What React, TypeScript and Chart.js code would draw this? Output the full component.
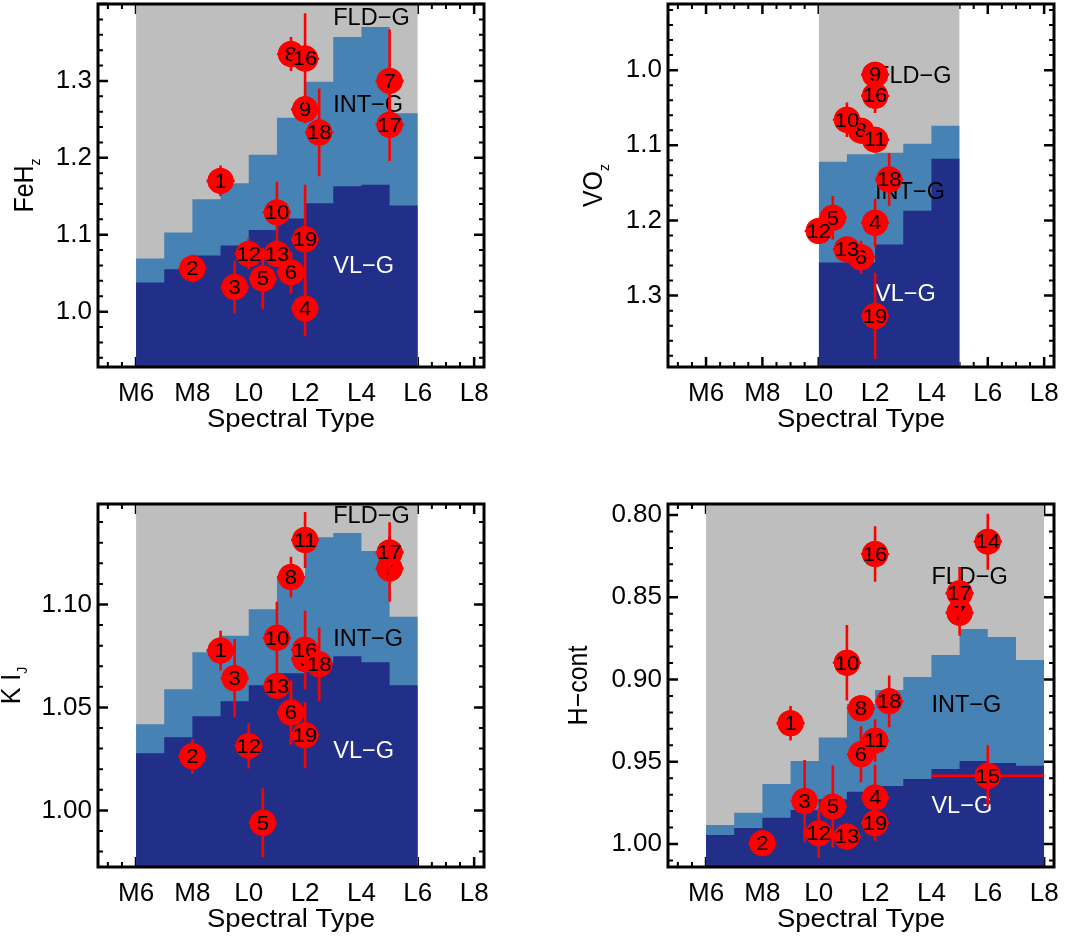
import React, { useEffect, useRef } from "react";
import { Chart, registerables } from "chart.js";

Chart.register(...registerables);

const FONT = "'Liberation Sans', Arial, Helvetica, sans-serif";
const GRAY = "#bebebe";
const STEEL = "#4682b4";
const NAVY = "#212f89";
const RED = "#ff0000";

// ---------- shared spectral-type axis ----------
const SPT_TICKS = [6, 8, 10, 12, 14, 16, 18];
const SPT_TICK_LABELS = ["M6", "M8", "L0", "L2", "L4", "L6", "L8"];
const GRAVITY_CLASSES = ["FLD−G", "INT−G", "VL−G"];

// ---------- FeH_z ----------
const FEH_IDS = [1, 2, 3, 4, 5, 6, 7, 8, 9, 10, 12, 13, 16, 17, 18, 19];
const FEH_SPT = [9, 8, 9.5, 12, 10.5, 11.5, 15, 11.5, 12, 11, 10, 11, 12, 15, 12.5, 12];
const FEH_VAL = [1.170, 1.056, 1.032, 1.004, 1.043, 1.051, 1.300, 1.335, 1.263, 1.129, 1.075, 1.075, 1.329, 1.243, 1.233, 1.094];
const FEH_ERR = [0.020, 0.018, 0.034, 0.036, 0.040, 0.027, 0.067, 0.022, 0.018, 0.040, 0.020, 0.015, 0.059, 0.047, 0.057, 0.071];
const FEH_XERR = [0.5, 0.5, 0.5, 0.5, 0.5, 0.5, 0.5, 0.5, 0.5, 0.5, 0.5, 0.5, 0.5, 0.5, 0.5, 0.5];
const FEH_BINS = [6, 7, 8, 9, 10, 11, 12, 13, 14, 15, 16];
const FEH_INT = [1.069, 1.103, 1.146, 1.167, 1.204, 1.252, 1.299, 1.357, 1.370, 1.258];
const FEH_VL = [1.038, 1.055, 1.073, 1.086, 1.106, 1.121, 1.141, 1.163, 1.165, 1.138];
const FEH_TICKS = [1.0, 1.1, 1.2, 1.3];

// ---------- VO_z ----------
const VO_IDS = [4, 5, 6, 8, 9, 10, 11, 12, 13, 16, 18, 19];
const VO_SPT = [12, 10.5, 11.5, 11.5, 12, 11, 12, 10, 11, 12, 12.5, 12];
const VO_VAL = [1.203, 1.1965, 1.249, 1.0805, 1.006, 1.066, 1.0925, 1.214, 1.2385, 1.034, 1.1456, 1.327];
const VO_ERR = [0.032, 0.029, 0.022, 0.012, 0.010, 0.023, 0.010, 0.008, 0.010, 0.023, 0.035, 0.0575];
const VO_XERR = [0.5, 0.5, 0.5, 0.5, 0.5, 0.5, 0.5, 0.5, 0.5, 0.5, 0.5, 0.5];
const VO_BINS = [10, 11, 12, 13, 14, 15];
const VO_INT = [1.122, 1.112, 1.110, 1.098, 1.074];
const VO_VL = [1.256, 1.256, 1.232, 1.187, 1.118];
const VO_TICKS = [1.0, 1.1, 1.2, 1.3];

// ---------- K I_J ----------
const KI_IDS = [1, 2, 3, 5, 6, 7, 8, 9, 10, 11, 12, 13, 16, 17, 18, 19];
const KI_SPT = [9, 8, 9.5, 10.5, 11.5, 15, 11.5, 12, 11, 12, 10, 11, 12, 15, 12.5, 12];
const KI_VAL = [1.0776, 1.0263, 1.0642, 0.994, 1.0475, 1.1175, 1.1133, 1.0735, 1.0838, 1.1313, 1.0313, 1.0605, 1.078, 1.1253, 1.071, 1.0365];
const KI_ERR = [0.0097, 0.0085, 0.019, 0.0167, 0.0156, 0.016, 0.0099, 0.006, 0.0175, 0.0136, 0.011, 0.006, 0.019, 0.0146, 0.0178, 0.016];
const KI_XERR = [0.5, 0.5, 0.5, 0.5, 0.5, 0.5, 0.5, 0.5, 0.5, 0.5, 0.5, 0.5, 0.5, 0.5, 0.5, 0.5];
const KI_BINS = [6, 7, 8, 9, 10, 11, 12, 13, 14, 15, 16];
const KI_INT = [1.0418, 1.0588, 1.0768, 1.0848, 1.0977, 1.113, 1.1327, 1.1347, 1.126, 1.094];
const KI_VL = [1.0277, 1.0355, 1.0457, 1.053, 1.0608, 1.0666, 1.0718, 1.0749, 1.072, 1.0608];
const KI_TICKS = [1.0, 1.05, 1.1];

// ---------- H-cont ----------
const HC_IDS = [1, 2, 3, 4, 5, 6, 7, 8, 10, 11, 12, 13, 14, 15, 16, 17, 18, 19];
const HC_SPT = [9, 8, 9.5, 12, 10.5, 11.5, 15, 11.5, 11, 12, 10, 11, 16, 16, 12, 15, 12.5, 12];
const HC_VAL = [0.9266, 0.9996, 0.9739, 0.9718, 0.9773, 0.9455, 0.8594, 0.9175, 0.8898, 0.9372, 0.9935, 0.9955, 0.8162, 0.9585, 0.8237, 0.8476, 0.9133, 0.9874];
const HC_ERR = [0.0105, 0.003, 0.025, 0.02, 0.025, 0.017, 0.014, 0.005, 0.023, 0.013, 0.015, 0.003, 0.017, 0.0185, 0.0168, 0.016, 0.0158, 0.0107];
const HC_XERR = [0.5, 0.5, 0.5, 0.5, 0.5, 0.5, 0.5, 0.5, 0.5, 0.5, 0.5, 0.5, 0.5, 2, 0.5, 0.5, 0.5, 0.5];
const HC_BINS = [6, 7, 8, 9, 10, 11, 12, 13, 14, 15, 16, 17, 18];
const HC_INT = [0.9884, 0.981, 0.9635, 0.9495, 0.9353, 0.9149, 0.9064, 0.8985, 0.8851, 0.8693, 0.8742, 0.8881];
const HC_VL = [0.9945, 0.9903, 0.984, 0.9793, 0.9728, 0.9682, 0.9647, 0.9605, 0.9544, 0.9495, 0.9507, 0.9524];
const HC_TICKS = [0.8, 0.85, 0.9, 0.95, 1.0];

type Panel = {
  key: string;
  title: string;
  sub: string;
  ids: number[];
  spt: number[];
  val: number[];
  err: number[];
  xerr: number[];
  bins: number[];
  intLim: number[];
  vlLim: number[];
  yTicks: number[];
  digits: number;
  minorStep: number;
  yMin: number;
  yMax: number;
  reverse: boolean;
  box: { left: number; top: number; width: number; height: number };
  area: { left: number; top: number; right: number; bottom: number };
  titleGap: number;
  classPos: { x: number; y: number }[];
};

const X_MIN = 4.65;
const X_MAX = 18.35;

const PANELS: Panel[] = [
  {
    key: "feh", title: "FeH", sub: "z",
    ids: FEH_IDS, spt: FEH_SPT, val: FEH_VAL, err: FEH_ERR, xerr: FEH_XERR,
    bins: FEH_BINS, intLim: FEH_INT, vlLim: FEH_VL,
    yTicks: FEH_TICKS, digits: 1, minorStep: 0.02,
    yMin: 0.928, yMax: 1.4, reverse: false,
    box: { left: 0, top: 0, width: 532, height: 469 },
    area: { left: 98, top: 4, right: 484, bottom: 367 },
    titleGap: 65,
    classPos: [{ x: 13, y: 1.373 }, { x: 13, y: 1.26 }, { x: 13, y: 1.05 }],
  },
  {
    key: "vo", title: "VO", sub: "z",
    ids: VO_IDS, spt: VO_SPT, val: VO_VAL, err: VO_ERR, xerr: VO_XERR,
    bins: VO_BINS, intLim: VO_INT, vlLim: VO_VL,
    yTicks: VO_TICKS, digits: 1, minorStep: 0.02,
    yMin: 0.912, yMax: 1.395, reverse: true,
    box: { left: 532, top: 0, width: 533, height: 469 },
    area: { left: 668, top: 4, right: 1054, bottom: 367 },
    titleGap: 66,
    classPos: [{ x: 12, y: 1.0173 }, { x: 12, y: 1.171 }, { x: 12, y: 1.3073 }],
  },
  {
    key: "ki", title: "K I", sub: "J",
    ids: KI_IDS, spt: KI_SPT, val: KI_VAL, err: KI_ERR, xerr: KI_XERR,
    bins: KI_BINS, intLim: KI_INT, vlLim: KI_VL,
    yTicks: KI_TICKS, digits: 2, minorStep: 0.01,
    yMin: 0.9725, yMax: 1.1488, reverse: false,
    box: { left: 0, top: 469, width: 532, height: 470 },
    area: { left: 98, top: 504, right: 484, bottom: 867 },
    titleGap: 78,
    classPos: [{ x: 13, y: 1.1394 }, { x: 13, y: 1.0799 }, { x: 13, y: 1.0256 }],
  },
  {
    key: "hc", title: "H−cont", sub: "",
    ids: HC_IDS, spt: HC_SPT, val: HC_VAL, err: HC_ERR, xerr: HC_XERR,
    bins: HC_BINS, intLim: HC_INT, vlLim: HC_VL,
    yTicks: HC_TICKS, digits: 2, minorStep: 0.01,
    yMin: 0.7933, yMax: 1.014, reverse: true,
    box: { left: 532, top: 469, width: 533, height: 470 },
    area: { left: 668, top: 504, right: 1054, bottom: 867 },
    titleGap: 81,
    classPos: [{ x: 14, y: 0.8419 }, { x: 14, y: 0.9196 }, { x: 14, y: 0.9813 }],
  },
];

function stepData(bins: number[], vals: number[]) {
  const pts: { x: number; y: number }[] = [];
  vals.forEach((v, i) => {
    pts.push({ x: bins[i], y: v });
    pts.push({ x: bins[i + 1], y: v });
  });
  return pts;
}

const POINT_R = 13;
const TEXT_STRETCH = 1.1;

function makeDecor(p: Panel) {
  return {
    id: "decor-" + p.key,
    beforeDatasetsDraw(chart: any) {
      const { ctx, chartArea: a, scales } = chart;
      const xs = scales.x;
      const ys = scales.y;
      ctx.save();
      ctx.strokeStyle = "#000";
      const k0 = Math.ceil(xs.min / 0.5 - 1e-9);
      const k1 = Math.floor(xs.max / 0.5 + 1e-9);
      for (let k = k0; k <= k1; k++) {
        const major = k % 4 === 0;
        const len = major ? 10 : 5;
        const px = xs.getPixelForValue(k * 0.5);
        ctx.lineWidth = major ? 2.5 : 2;
        ctx.beginPath();
        ctx.moveTo(px, a.bottom);
        ctx.lineTo(px, a.bottom - len);
        ctx.moveTo(px, a.top);
        ctx.lineTo(px, a.top + len);
        ctx.stroke();
      }
      const m0 = Math.ceil(ys.min / p.minorStep - 1e-6);
      const m1 = Math.floor(ys.max / p.minorStep + 1e-6);
      for (let k = m0; k <= m1; k++) {
        const major = k % 5 === 0;
        const len = major ? 10 : 5;
        const py = ys.getPixelForValue(k * p.minorStep);
        ctx.lineWidth = major ? 2.5 : 2;
        ctx.beginPath();
        ctx.moveTo(a.left, py);
        ctx.lineTo(a.left + len, py);
        ctx.moveTo(a.right, py);
        ctx.lineTo(a.right - len, py);
        ctx.stroke();
      }
      ctx.restore();
    },
    beforeDatasetDraw(chart: any, args: any) {
      if (args.index !== 3) return;
      const { ctx, scales } = chart;
      ctx.save();
      ctx.font = `23.5px ${FONT}`;
      ctx.textAlign = "left";
      ctx.textBaseline = "alphabetic";
      GRAVITY_CLASSES.forEach((name, i) => {
        ctx.fillStyle = i === 2 ? "#ffffff" : "#000000";
        ctx.fillText(
          name,
          scales.x.getPixelForValue(p.classPos[i].x),
          scales.y.getPixelForValue(p.classPos[i].y)
        );
      });
      ctx.restore();
    },
    afterDatasetsDraw(chart: any) {
      const { ctx, scales } = chart;
      const xs = scales.x;
      const ys = scales.y;
      const meta = chart.getDatasetMeta(3);
      ctx.save();
      p.ids.forEach((id, i) => {
        const el = meta.data[i];
        const px = el.x;
        const py = el.y;
        const yA = ys.getPixelForValue(p.val[i] - p.err[i]);
        const yB = ys.getPixelForValue(p.val[i] + p.err[i]);
        const xA = xs.getPixelForValue(p.spt[i] - p.xerr[i]);
        const xB = xs.getPixelForValue(p.spt[i] + p.xerr[i]);
        ctx.strokeStyle = RED;
        ctx.lineWidth = 2.6;
        ctx.beginPath();
        ctx.moveTo(px, yA);
        ctx.lineTo(px, yB);
        ctx.moveTo(xA, py);
        ctx.lineTo(xB, py);
        ctx.stroke();
        ctx.fillStyle = RED;
        ctx.beginPath();
        ctx.arc(px, py, POINT_R, 0, Math.PI * 2);
        ctx.fill();
        ctx.save();
        ctx.translate(px, py + 1);
        ctx.scale(1.05, 1);
        ctx.fillStyle = "#000";
        ctx.font = `21px ${FONT}`;
        ctx.textAlign = "center";
        ctx.textBaseline = "middle";
        ctx.fillText(String(id), 0, 0);
        ctx.restore();
      });
      ctx.restore();
    },
    afterDraw(chart: any) {
      const { ctx, chartArea: a } = chart;
      ctx.save();
      ctx.strokeStyle = "#000";
      ctx.lineWidth = 3;
      ctx.strokeRect(a.left, a.top, a.right - a.left, a.bottom - a.top);
      ctx.fillStyle = "#000";
      // x-axis title
      ctx.save();
      ctx.translate((a.left + a.right) / 2, a.bottom + 60);
      ctx.scale(TEXT_STRETCH, 1);
      ctx.font = `25px ${FONT}`;
      ctx.textAlign = "center";
      ctx.textBaseline = "alphabetic";
      ctx.fillText("Spectral Type", 0, 0);
      ctx.restore();
      // y-axis title with subscript
      ctx.translate(a.left - p.titleGap, (a.top + a.bottom) / 2);
      ctx.rotate(-Math.PI / 2);
      ctx.scale(1, TEXT_STRETCH);
      const mainFont = `25px ${FONT}`;
      const subFont = `14px ${FONT}`;
      ctx.font = mainFont;
      const w1 = ctx.measureText(p.title).width;
      ctx.font = subFont;
      const w2 = p.sub ? ctx.measureText(p.sub).width : 0;
      const start = -(w1 + w2) / 2;
      ctx.textAlign = "left";
      ctx.textBaseline = "alphabetic";
      ctx.font = mainFont;
      ctx.fillText(p.title, start, 0);
      if (p.sub) {
        ctx.font = subFont;
        ctx.fillText(p.sub, start + w1, 6);
      }
      ctx.restore();
    },
  };
}

function buildConfig(p: Panel): any {
  const fillTo = p.reverse ? p.yMax : p.yMin;
  return {
    type: "scatter",
    data: {
      datasets: [
        {
          type: "line",
          label: GRAVITY_CLASSES[0],
          data: [
            { x: p.bins[0], y: p.yMax },
            { x: p.bins[p.bins.length - 1], y: p.yMax },
          ],
          fill: { value: p.yMin },
          backgroundColor: GRAY,
          borderColor: "transparent",
          borderWidth: 0,
          pointRadius: 0,
          order: 3,
        },
        {
          type: "line",
          label: GRAVITY_CLASSES[1],
          data: stepData(p.bins, p.intLim),
          fill: { value: fillTo },
          backgroundColor: STEEL,
          borderColor: "transparent",
          borderWidth: 0,
          pointRadius: 0,
          order: 2,
        },
        {
          type: "line",
          label: GRAVITY_CLASSES[2],
          data: stepData(p.bins, p.vlLim),
          fill: { value: fillTo },
          backgroundColor: NAVY,
          borderColor: "transparent",
          borderWidth: 0,
          pointRadius: 0,
          order: 1,
        },
        {
          type: "scatter",
          label: "objects",
          data: p.spt.map((x, i) => ({ x, y: p.val[i] })),
          pointRadius: POINT_R,
          pointBackgroundColor: RED,
          pointBorderWidth: 0,
          order: 0,
        },
      ],
    },
    options: {
      animation: false,
      responsive: false,
      maintainAspectRatio: false,
      devicePixelRatio: 1,
      events: [],
      layout: {
        autoPadding: false,
        padding: {
          left: 0,
          top: p.area.top - p.box.top,
          right: p.box.left + p.box.width - p.area.right,
          bottom: 0,
        },
      },
      plugins: {
        legend: { display: false },
        tooltip: { enabled: false },
        title: { display: false },
      },
      scales: {
        x: {
          type: "linear",
          position: "bottom",
          min: X_MIN,
          max: X_MAX,
          bounds: "data",
          grid: { display: false, drawTicks: false },
          border: { display: false },
          ticks: {
            autoSkip: false,
            maxRotation: 0,
            padding: 11,
            color: "#000",
            font: { family: FONT, size: 26 },
            callback: (v: number) => {
              const i = SPT_TICKS.indexOf(v);
              return i >= 0 ? SPT_TICK_LABELS[i] : "";
            },
          },
          afterBuildTicks: (s: any) => {
            s.ticks = SPT_TICKS.map((v) => ({ value: v }));
          },
          afterFit: (s: any) => {
            s.height = p.box.top + p.box.height - p.area.bottom;
            s.paddingLeft = 0;
            s.paddingRight = 0;
            s.paddingTop = 0;
            s.paddingBottom = 0;
          },
        },
        y: {
          type: "linear",
          position: "left",
          min: p.yMin,
          max: p.yMax,
          reverse: p.reverse,
          bounds: "data",
          grid: { display: false, drawTicks: false },
          border: { display: false },
          ticks: {
            autoSkip: false,
            padding: 6,
            color: "#000",
            font: { family: FONT, size: 26 },
            callback: (v: number) => Number(v).toFixed(p.digits),
          },
          afterBuildTicks: (s: any) => {
            s.ticks = p.yTicks.map((v) => ({ value: v }));
          },
          afterFit: (s: any) => {
            s.width = p.area.left - p.box.left;
            s.paddingLeft = 0;
            s.paddingRight = 0;
            s.paddingTop = 0;
            s.paddingBottom = 0;
          },
        },
      },
    },
    plugins: [makeDecor(p)],
  };
}

function PanelChart({ panel }: { panel: Panel }) {
  const ref = useRef<HTMLCanvasElement | null>(null);
  useEffect(() => {
    if (!ref.current) return;
    const chart = new Chart(ref.current, buildConfig(panel));
    return () => chart.destroy();
  }, [panel]);
  return (
    <div
      style={{
        position: "absolute",
        left: panel.box.left,
        top: panel.box.top,
        width: panel.box.width,
        height: panel.box.height,
      }}
    >
      <canvas
        ref={ref}
        width={panel.box.width}
        height={panel.box.height}
        style={{ width: panel.box.width, height: panel.box.height, display: "block" }}
      />
    </div>
  );
}

export default function App() {
  return (
    <div
      style={{
        position: "absolute",
        left: 0,
        top: 0,
        width: 1065,
        height: 939,
        background: "#ffffff",
        overflow: "hidden",
      }}
    >
      {PANELS.map((p) => (
        <PanelChart key={p.key} panel={p} />
      ))}
    </div>
  );
}
